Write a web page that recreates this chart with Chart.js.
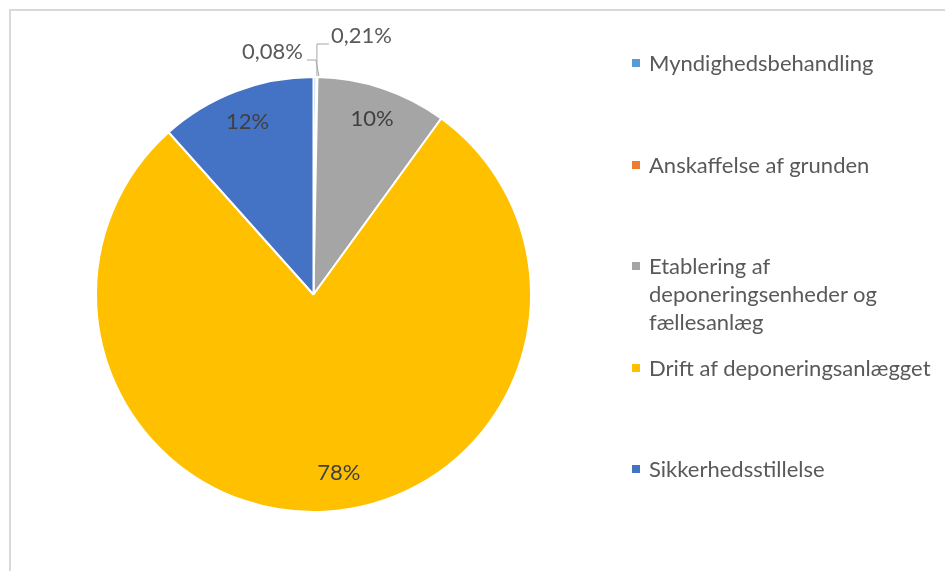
<!DOCTYPE html>
<html>
<head>
<meta charset="utf-8">
<script src="https://cdn.jsdelivr.net/npm/chart.js@4/dist/chart.umd.min.js"></script>
<style>
  html, body { margin: 0; padding: 0; background: #fff; }
  #wrap { position: relative; width: 945px; height: 571px; overflow: hidden; font-family: Lato, "Open Sans", sans-serif; }
  #frame { position: absolute; left: 9px; top: 9px; width: 960px; height: 600px; border-top: 2px solid #d9d9d9; border-left: 2px solid #d9d9d9; }
  #c { position: absolute; left: 0; top: 0; }
  #legend { position: absolute; left: 632px; top: 0; width: 300px; height: 571px; }
  .item { position: absolute; left: 0; width: 300px; display: flex; align-items: flex-start; color: #595959; font-size: 22px; line-height: 28px; }
  .mk { width: 8px; height: 8px; margin-top: 10px; margin-right: 9px; flex: none; }
  .tx { width: 283px; }
</style>
</head>
<body>
<div id="wrap">
  <div id="frame"></div>
  <canvas id="c" width="945" height="571"></canvas>
  <div id="legend"></div>
</div>
<script>
const categories = [
  "Myndighedsbehandling",
  "Anskaffelse af grunden",
  "Etablering af deponeringsenheder og fællesanlæg",
  "Drift af deponeringsanlægget",
  "Sikkerhedsstillelse"
];
const values = [0.21, 0.08, 9.7, 78.4, 11.6];
const colors = ["#5B9BD5", "#ED7D31", "#A5A5A5", "#FFC000", "#4472C4"];

const total = values.reduce((a, b) => a + b, 0);
function fmt(v) {
  const p = v / total * 100;
  if (p < 1) return p.toFixed(2).replace('.', ',') + '%';
  return Math.round(p) + '%';
}

const labelPlugin = {
  id: 'pieLabels',
  afterDatasetsDraw(chart) {
    const ctx = chart.ctx;
    const meta = chart.getDatasetMeta(0);
    ctx.save();
    ctx.font = '22px Lato, "Open Sans", sans-serif';
    let tiny = 0;
    meta.data.forEach((arc, i) => {
      const p = values[i] / total * 100;
      const mid = (arc.startAngle + arc.endAngle) / 2;
      const txt = fmt(values[i]);
      if (p >= 1) {
        const r = arc.outerRadius * (p > 50 ? 0.83 : 0.85);
        ctx.fillStyle = '#404040';
        ctx.textAlign = 'center';
        ctx.textBaseline = 'middle';
        const a = p > 50 ? mid - 0.09 : mid;
        ctx.fillText(txt, arc.x + Math.cos(a) * r, arc.y + Math.sin(a) * r);
      } else {
        const ax = arc.x + Math.cos(mid) * arc.outerRadius;
        const ay = arc.y + Math.sin(mid) * arc.outerRadius;
        ctx.strokeStyle = '#a6a6a6';
        ctx.lineWidth = 1;
        ctx.fillStyle = '#595959';
        ctx.textBaseline = 'middle';
        ctx.beginPath();
        if (tiny === 0) {
          ctx.moveTo(ax + 2, ay - 1);
          ctx.lineTo(ax + 2, ay - 33);
          ctx.lineTo(ax + 14, ay - 33);
          ctx.stroke();
          ctx.textAlign = 'left';
          ctx.fillText(txt, ax + 16, ay - 41);
        } else {
          ctx.moveTo(ax + 2, ay - 1);
          ctx.lineTo(ax - 1, ay - 17);
          ctx.lineTo(ax - 10, ay - 17);
          ctx.stroke();
          ctx.textAlign = 'right';
          ctx.fillText(txt, ax - 14, ay - 25);
        }
        tiny++;
      }
    });
    ctx.restore();
  }
};

new Chart(document.getElementById('c'), {
  type: 'pie',
  data: {
    labels: categories,
    datasets: [{
      data: values,
      backgroundColor: colors,
      borderColor: '#ffffff',
      borderWidth: 2,
      hoverOffset: 0,
      offset: 0
    }]
  },
  options: {
    responsive: false,
    animation: false,
    events: [],
    layout: { padding: { left: 95, right: 413, top: 76, bottom: 58 } },
    plugins: { legend: { display: false }, tooltip: { enabled: false } }
  },
  plugins: [labelPlugin]
});

const legend = document.getElementById('legend');
categories.forEach((name, i) => {
  const it = document.createElement('div');
  it.className = 'item';
  it.style.top = (49 + i * 101.5) + 'px';
  const mk = document.createElement('div');
  mk.className = 'mk';
  mk.style.background = colors[i];
  const tx = document.createElement('div');
  tx.className = 'tx';
  tx.textContent = name;
  it.appendChild(mk);
  it.appendChild(tx);
  legend.appendChild(it);
});
</script>
</body>
</html>
